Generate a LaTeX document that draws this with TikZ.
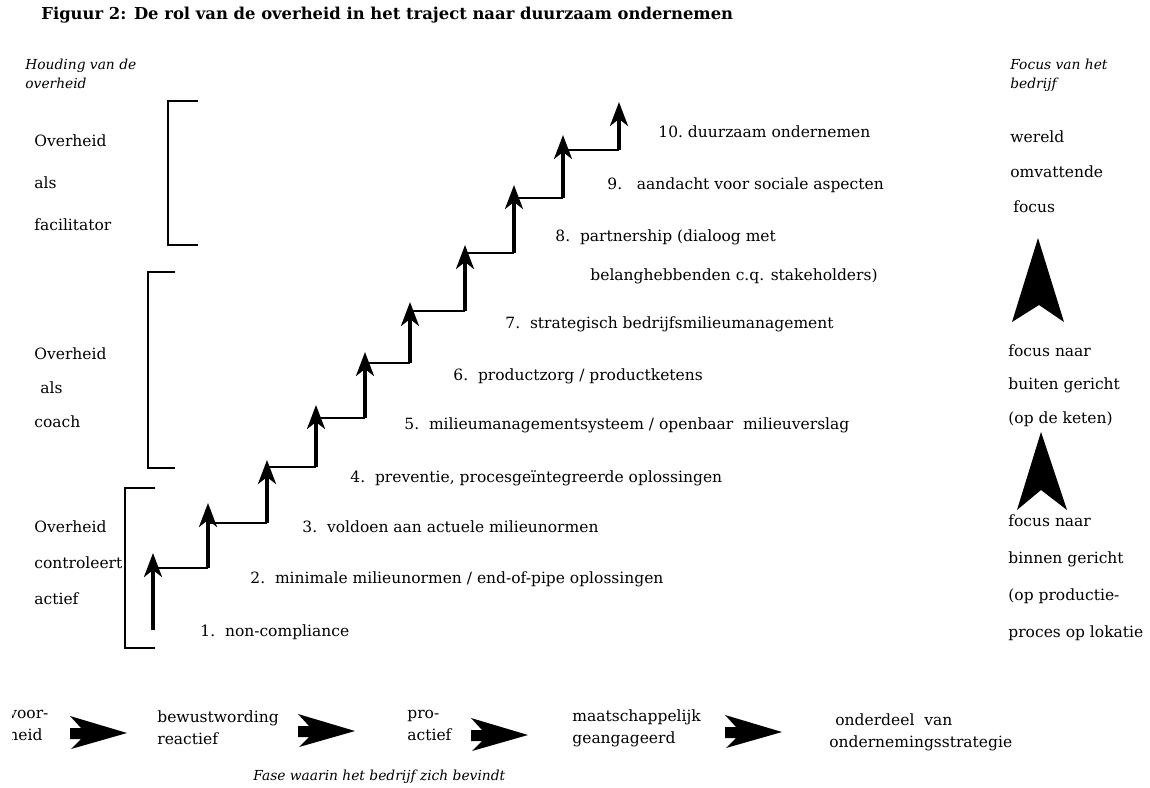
\documentclass[tikz,border=0pt]{standalone}
\usepackage{fontspec}
\setmainfont{DejaVu Serif}
\usetikzlibrary{positioning}
\usetikzlibrary{arrows.meta}
\tikzset{lbl/.style = {anchor=west, inner sep=0pt, font=\fontsize{7.75}{9}\selectfont}}
\tikzset{blk/.style = {anchor=north west, inner sep=0pt, align=left,
                       font=\fontsize{7.75}{#1}\selectfont}}
\tikzset{note/.style = {anchor=north west, inner sep=0pt, align=left,
                        font=\fontsize{6.9}{9.5}\selectfont\itshape}}
\tikzset{riser/.style = {line width=1.7pt,
                         -{Stealth[length=12pt,width=9pt,inset=3.5pt]}}}
\tikzset{tread/.style = {line width=0.8pt}}
\tikzset{brace/.style = {line width=0.7pt}}
\tikzset{fatarrow/.pic = {\fill (0,0) -- (-57,-17) -- (-46,-5) -- (-57,-5)
                          -- (-57,6) -- (-46,6) -- (-56,16) -- cycle;}}

\begin{document}
\begin{tikzpicture}[x=0.5pt,y=-0.5pt]
      \useasboundingbox (0,0) rectangle (1150,787);
      % title
      \node[anchor=west, inner sep=0pt, font=\fontsize{8.2}{9}\selectfont\bfseries]
        (title) at (41,15) {Figuur 2: De rol van de overheid in het traject naar duurzaam ondernemen};
      \node[note] (houding) at (25,59) {Houding van de\\overheid};
      \node[note] (focus) at (1010,59) {Focus van het\\bedrijf};
      % staircase
      \foreach \i/\x/\b/\t in {1/153/630/553, 2/208/568/503, 3/267/523/460,
                               4/316/467/405, 5/365/418/352, 6/410/363/302,
                               7/465/311/245, 8/514/253/185, 9/563/198/135,
                               10/619/150/102}{
        \coordinate (b\i) at (\x,\b);
        \coordinate (t\i) at (\x,\t);
        \draw[riser] (b\i) -- (t\i);
      }
      \foreach \i/\j in {1/2, 2/3, 3/4, 4/5, 5/6, 6/7, 7/8, 8/9, 9/10}
        \draw[tread] (b\i |- b\j) -- (b\j);
      % step labels
      \node[lbl] (st1) at (200,632) {1.\ \ non-compliance};
      \node[lbl] (st2) at (250,579) {2.\ \ minimale milieunormen / end-of-pipe oplossingen};
      \node[lbl] (st3) at (302,527) {3.\ \ voldoen aan actuele milieunormen};
      \node[lbl] (st4) at (350,478) {4.\ \ preventie, procesgeïntegreerde oplossingen};
      \node[lbl] (st5) at (404,425) {5.\ \ milieumanagementsysteem / openbaar\ \ milieuverslag};
      \node[lbl] (st6) at (453,376) {6.\ \ productzorg / productketens};
      \node[lbl] (st7) at (505,324) {7.\ \ strategisch bedrijfsmilieumanagement};
      \node[lbl] (st8) at (555,237) {8.\ \ partnership (dialoog met};
      \node[lbl] (st8b) at (590,276) {belanghebbenden c.q. stakeholders)};
      \node[lbl] (st9) at (607,185) {9.\ \ \ aandacht voor sociale aspecten};
      \node[lbl] (st10) at (658,132) {10.\ duurzaam ondernemen};
      % role of the government
      \draw[brace] (198,101) -- (168,101) -- (168,245) -- (198,245);
      \draw[brace] (175,272) -- (148,272) -- (148,468) -- (175,468);
      \draw[brace] (155,488) -- (125,488) -- (125,648) -- (155,648);
      \node[blk=21pt] (facil) at (34,134) {Overheid\\als\\facilitator};
      \node[blk=17pt] (coach) at (34,347) {Overheid\\\hspace{3pt}als\\coach};
      \node[blk=18pt] (contr) at (34,520) {Overheid\\controleert\\actief};
      % focus of the company
      \node[blk=17.5pt] (wereld) at (1010,130) {wereld\\omvattende\\\hspace{1.5pt}focus};
      \fill (1038,238) -- (1064,322) -- (1039,305) -- (1012,322) -- cycle;
      \node[blk=16.75pt] (buiten) at (1008,344) {focus naar\\buiten gericht\\(op de keten)};
      \fill (1041,432) -- (1067,510) -- (1041,490) -- (1017,510) -- cycle;
      \node[blk=18.5pt] (binnen) at (1008,514) {focus naar\\binnen gericht\\(op productie-\\proces op lokatie};
      % phases
      \begin{scope}
        \clip (12,690) rectangle (70,760);
        \node[blk=11pt] (fase0) at (8,710) {voor-\\heid};
      \end{scope}
      \pic at (127,733) {fatarrow};
      \node[blk=11pt] (fase1) at (157,710) {bewustwording\\reactief};
      \pic at (355,731) {fatarrow};
      \node[blk=11pt] (fase2) at (407,710) {pro-\\actief};
      \pic at (528,735) {fatarrow};
      \node[blk=11pt] (fase3) at (572,709) {maatschappelijk\\geangageerd};
      \pic at (782,732) {fatarrow};
      \node[blk=11pt] (fase4) at (829,713) {\hspace{3pt}onderdeel\ \ van\\ondernemingsstrategie};
      \node[note] (fase) at (253,770) {Fase waarin het bedrijf zich bevindt};
    \end{tikzpicture}
\end{document}
